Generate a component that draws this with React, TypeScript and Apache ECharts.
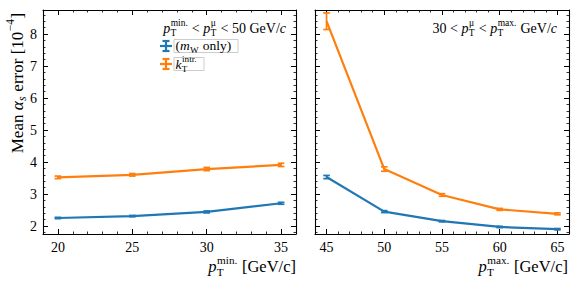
import React, { useEffect, useRef } from 'react';
import * as echarts from 'echarts';

// ---- data ----
const xMinCuts = [20, 25, 30, 35];
const mwOnlyMin = [2.25, 2.31, 2.44, 2.71];
const mwOnlyMinErr = [0.02, 0.02, 0.03, 0.03];
const kTMin = [3.52, 3.6, 3.78, 3.91];
const kTMinErr = [0.04, 0.04, 0.05, 0.05];

const xMaxCuts = [45, 50, 55, 60, 65];
const mwOnlyMax = [3.53, 2.45, 2.15, 1.97, 1.9];
const mwOnlyMaxErr = [0.05, 0.03, 0.02, 0.02, 0.02];
const kTMax = [8.4, 3.78, 2.97, 2.52, 2.38];
const kTMaxErr = [0.26, 0.07, 0.04, 0.03, 0.03];

const yTicks = [2, 3, 4, 5, 6, 7, 8];
const xMinTicks = [20, 25, 30, 35];
const xMaxTicks = [45, 50, 55, 60, 65];

const BLUE = '#1f77b4';
const ORANGE = '#ff7f0e';
const FF = '"Liberation Serif", "DejaVu Serif", serif';

type Tok = { t: string; it?: boolean; sub?: string; sup?: string; subIt?: boolean };

function fnt(size: number, it?: boolean) {
  return `${it ? 'italic ' : ''}${size}px ${FF}`;
}

let _ctx: CanvasRenderingContext2D | null = null;
function tw(text: string, f: string) {
  if (!_ctx) _ctx = document.createElement('canvas').getContext('2d');
  _ctx!.font = f;
  return _ctx!.measureText(text).width;
}

function txt(text: string, x: number, y: number, f: string, color: string) {
  return {
    type: 'text',
    x,
    y,
    style: {
      text,
      font: f,
      fill: color,
      align: 'left',
      textAlign: 'left',
      verticalAlign: 'middle',
      textVerticalAlign: 'middle',
    },
  };
}

function mathGroup(
  toks: Tok[],
  size: number,
  color: string,
  x: number,
  y: number,
  anchor: 'left' | 'right' | 'center',
  rotation = 0
) {
  const ss = size * 0.68;
  const els: any[] = [];
  let cx = 0;
  for (const k of toks) {
    const f = fnt(size, k.it);
    const w = k.t ? tw(k.t, f) : 0;
    if (k.t) els.push(txt(k.t, cx, 0, f, color));
    cx += w;
    let sw = 0;
    if (k.sup) {
      const sf = fnt(ss, false);
      sw = Math.max(sw, tw(k.sup, sf));
      els.push(txt(k.sup, cx + 0.5, -size * 0.36, sf, color));
    }
    if (k.sub) {
      const sf = fnt(ss, k.subIt);
      sw = Math.max(sw, tw(k.sub, sf));
      els.push(txt(k.sub, cx + 0.3, size * 0.35, sf, color));
    }
    if (sw) cx += sw + 1;
  }
  const off = anchor === 'right' ? -cx : anchor === 'center' ? -cx / 2 : 0;
  els.forEach((e) => (e.x += off));
  return { type: 'group', x, y, rotation, children: els, silent: true };
}

function errBar(color: string) {
  return (params: any, api: any) => {
    const x = api.value(0);
    const y = api.value(1);
    const e = api.value(2);
    const lo = api.coord([x, y - e]);
    const hi = api.coord([x, y + e]);
    const st = { stroke: color, lineWidth: 1.7 };
    return {
      type: 'group',
      children: [
        { type: 'line', shape: { x1: lo[0], y1: lo[1], x2: hi[0], y2: hi[1] }, style: st },
        { type: 'line', shape: { x1: lo[0] - 3.3, y1: lo[1], x2: lo[0] + 3.3, y2: lo[1] }, style: st },
        { type: 'line', shape: { x1: hi[0] - 3.3, y1: hi[1], x2: hi[0] + 3.3, y2: hi[1] }, style: st },
      ],
    };
  };
}

const axisLine = { show: true, onZero: false, lineStyle: { color: '#000', width: 1.1 } };
const axisTick = { show: true, inside: true, length: 5, lineStyle: { color: '#000', width: 1 } };
const minorTick = { show: true, splitNumber: 5, length: 2.5, lineStyle: { color: '#000', width: 0.8 } };
const labelStyle = { color: '#000', fontFamily: FF, fontSize: 14 };

function xAx(grid: number, pos: 'top' | 'bottom', min: number, max: number, split: number, ticks: number[], show: boolean) {
  return {
    type: 'value',
    gridIndex: grid,
    position: pos,
    min,
    max,
    splitNumber: split,
    axisLine,
    axisTick,
    minorTick,
    splitLine: { show: false },
    axisLabel: show
      ? { ...labelStyle, margin: 6, formatter: (v: number) => (ticks.includes(v) ? String(v) : '') }
      : { show: false },
  };
}
function yAx(grid: number, pos: 'left' | 'right', show: boolean) {
  return {
    type: 'value',
    gridIndex: grid,
    position: pos,
    min: 1.75,
    max: 8.75,
    splitNumber: 7,
    axisLine,
    axisTick,
    minorTick,
    splitLine: { show: false },
    axisLabel: show
      ? { ...labelStyle, margin: 6, formatter: (v: number) => (yTicks.includes(v) ? String(v) : '') }
      : { show: false },
  };
}

function pairs(xs: number[], ys: number[]) {
  return xs.map((x, i) => [x, ys[i]]);
}
function triples(xs: number[], ys: number[], es: number[]) {
  return xs.map((x, i) => [x, ys[i], es[i]]);
}

function lineSeries(xi: number, yi: number, data: any[], color: string) {
  return {
    type: 'line',
    xAxisIndex: xi,
    yAxisIndex: yi,
    data,
    showSymbol: false,
    symbol: 'none',
    lineStyle: { color, width: 2.2 },
    itemStyle: { color },
    z: 2,
  };
}
function errSeries(xi: number, yi: number, data: any[], color: string) {
  return {
    type: 'custom',
    xAxisIndex: xi,
    yAxisIndex: yi,
    data,
    renderItem: errBar(color),
    z: 3,
  };
}

export default function App() {
  const ref = useRef<HTMLDivElement>(null);
  useEffect(() => {
    if (!ref.current) return;
    const chart = echarts.init(ref.current, undefined, { renderer: 'svg' });

    const graphics: any[] = [];
    // y axis label
    graphics.push(
      mathGroup(
        [
          { t: 'Mean ' },
          { t: 'α', it: true, sub: 's', subIt: true },
          { t: ' error [10' },
          { t: '', sup: '−4' },
          { t: ']' },
        ],
        17,
        '#000',
        17,
        83,
        'center',
        Math.PI / 2
      )
    );
    // x labels
    graphics.push(
      mathGroup([{ t: 'p', it: true, sub: 'T', sup: 'min.' }, { t: ' [GeV/c]' }], 16.5, '#000', 296, 266, 'right')
    );
    graphics.push(
      mathGroup([{ t: 'p', it: true, sub: 'T', sup: 'max.' }, { t: ' [GeV/c]' }], 16.5, '#000', 568, 266, 'right')
    );
    // left title
    graphics.push(
      mathGroup(
        [
          { t: 'p', it: true, sub: 'T', sup: 'min.' },
          { t: ' < ' },
          { t: 'p', it: true, sub: 'T', sup: 'μ' },
          { t: ' < 50 GeV/' },
          { t: 'c', it: true },
        ],
        14,
        '#000',
        286,
        28.5,
        'right'
      )
    );
    // right title
    graphics.push(
      mathGroup(
        [
          { t: '30 < ' },
          { t: 'p', it: true, sub: 'T', sup: 'μ' },
          { t: ' < ' },
          { t: 'p', it: true, sub: 'T', sup: 'max.' },
          { t: ' GeV/' },
          { t: 'c', it: true },
        ],
        14,
        '#000',
        557,
        28.5,
        'right'
      )
    );
    // legend
    const icon = (cy: number, color: string) => {
      const st = { stroke: color, lineWidth: 2.2 };
      return {
        type: 'group',
        silent: true,
        children: [
          { type: 'line', shape: { x1: 160, y1: cy, x2: 172, y2: cy }, style: st },
          { type: 'line', shape: { x1: 166, y1: cy - 5, x2: 166, y2: cy + 5 }, style: st },
          { type: 'line', shape: { x1: 162.5, y1: cy - 5, x2: 169.5, y2: cy - 5 }, style: st },
          { type: 'line', shape: { x1: 162.5, y1: cy + 5, x2: 169.5, y2: cy + 5 }, style: st },
        ],
      };
    };
    graphics.push({
      type: 'rect',
      shape: { x: 174, y: 39.5, width: 64, height: 13 },
      style: { fill: '#fff', stroke: '#cccccc', lineWidth: 1 },
      silent: true,
    });
    graphics.push({
      type: 'rect',
      shape: { x: 174, y: 57.5, width: 30, height: 13 },
      style: { fill: '#fff', stroke: '#cccccc', lineWidth: 1 },
      silent: true,
    });
    graphics.push(icon(46, BLUE));
    graphics.push(icon(64, ORANGE));
    graphics.push(
      mathGroup([{ t: '(' }, { t: 'm', it: true, sub: 'W' }, { t: ' only)' }], 13.5, '#000', 175.5, 45.5, 'left')
    );
    graphics.push(mathGroup([{ t: 'k', it: true, sub: 'T', sup: 'intr.' }], 13.5, '#000', 175.5, 64, 'left'));

    chart.setOption({
      animation: false,
      backgroundColor: '#fff',
      grid: [
        { left: 43, top: 10, width: 253, height: 224 },
        { left: 315, top: 10, width: 254, height: 224 },
      ],
      xAxis: [
        xAx(0, 'bottom', 19, 36, 3, xMinTicks, true),
        xAx(0, 'top', 19, 36, 3, xMinTicks, false),
        xAx(1, 'bottom', 44, 66, 4, xMaxTicks, true),
        xAx(1, 'top', 44, 66, 4, xMaxTicks, false),
      ],
      yAxis: [yAx(0, 'left', true), yAx(0, 'right', false), yAx(1, 'left', false), yAx(1, 'right', false)],
      series: [
        lineSeries(0, 0, pairs(xMinCuts, mwOnlyMin), BLUE),
        errSeries(0, 0, triples(xMinCuts, mwOnlyMin, mwOnlyMinErr), BLUE),
        lineSeries(0, 0, pairs(xMinCuts, kTMin), ORANGE),
        errSeries(0, 0, triples(xMinCuts, kTMin, kTMinErr), ORANGE),
        lineSeries(2, 2, pairs(xMaxCuts, mwOnlyMax), BLUE),
        errSeries(2, 2, triples(xMaxCuts, mwOnlyMax, mwOnlyMaxErr), BLUE),
        lineSeries(2, 2, pairs(xMaxCuts, kTMax), ORANGE),
        errSeries(2, 2, triples(xMaxCuts, kTMax, kTMaxErr), ORANGE),
      ],
      graphic: graphics,
    });
    return () => chart.dispose();
  }, []);
  return (
    <div
      ref={ref}
      style={{ position: 'fixed', left: 0, top: 0, width: 579, height: 282, background: '#fff' }}
    />
  );
}
